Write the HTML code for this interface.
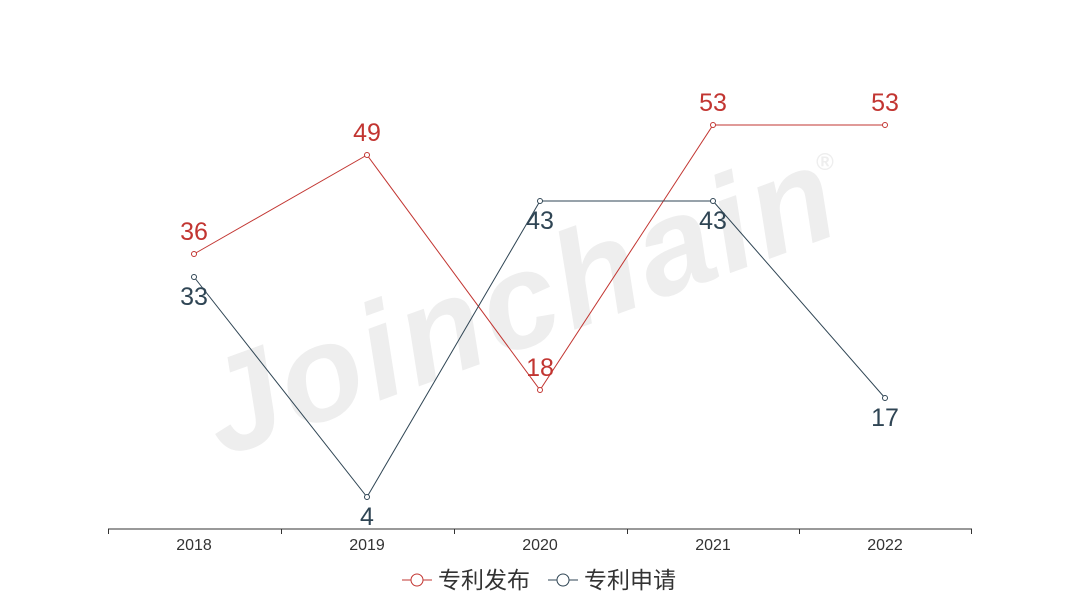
<!DOCTYPE html>
<html><head><meta charset="utf-8"><style>
html,body{margin:0;padding:0;background:#fff;}
svg{display:block;font-family:"Liberation Sans","Noto Sans CJK SC",sans-serif;}
</style></head><body>
<svg width="1080" height="600" viewBox="0 0 1080 600">
<text x="530" y="345" transform="rotate(-20 530 330)" text-anchor="middle" font-size="135" font-weight="bold" font-style="italic" letter-spacing="4" fill="#eeeeee">Joinchain</text>
<text x="825" y="170" font-size="24" font-weight="bold" fill="#eeeeee" text-anchor="middle">®</text>
<line x1="108" y1="529" x2="972" y2="529" stroke="#333" stroke-width="1"/>
<g stroke="#333" stroke-width="1">
<line x1="108.5" y1="529" x2="108.5" y2="534"/><line x1="281.5" y1="529" x2="281.5" y2="534"/><line x1="454.5" y1="529" x2="454.5" y2="534"/><line x1="627.5" y1="529" x2="627.5" y2="534"/><line x1="799.5" y1="529" x2="799.5" y2="534"/><line x1="971.5" y1="529" x2="971.5" y2="534"/>
</g>
<g font-size="16" fill="#333" text-anchor="middle">
<text x="194" y="550">2018</text><text x="367" y="550">2019</text><text x="540" y="550">2020</text><text x="713" y="550">2021</text><text x="885" y="550">2022</text>
</g>
<polyline points="194,254 367,155 540,390 713,125 885,125" fill="none" stroke="#c23531" stroke-width="1"/>
<polyline points="194,277 367,497 540,201 713,201 885,398" fill="none" stroke="#2f4554" stroke-width="1"/>
<g fill="#fff" stroke="#c23531" stroke-width="1">
<circle cx="194" cy="254" r="2.5"/><circle cx="367" cy="155" r="2.5"/><circle cx="540" cy="390" r="2.5"/><circle cx="713" cy="125" r="2.5"/><circle cx="885" cy="125" r="2.5"/>
</g>
<g fill="#fff" stroke="#2f4554" stroke-width="1">
<circle cx="194" cy="277" r="2.5"/><circle cx="367" cy="497" r="2.5"/><circle cx="540" cy="201" r="2.5"/><circle cx="713" cy="201" r="2.5"/><circle cx="885" cy="398" r="2.5"/>
</g>
<g font-size="25" fill="#c23531" text-anchor="middle">
<text x="194" y="240">36</text><text x="367" y="141">49</text><text x="540" y="376">18</text><text x="713" y="111">53</text><text x="885" y="111">53</text>
</g>
<g font-size="25" fill="#2f4554" text-anchor="middle">
<text x="194" y="305">33</text><text x="367" y="525">4</text><text x="540" y="229">43</text><text x="713" y="229">43</text><text x="885" y="426">17</text>
</g>
<g font-size="23">
<line x1="402" y1="580" x2="432" y2="580" stroke="#c23531" stroke-width="1"/>
<circle cx="417" cy="580" r="6" fill="#fff" stroke="#c23531"/>
<text x="438" y="588" fill="#333">专利发布</text>
<line x1="548" y1="580" x2="578" y2="580" stroke="#2f4554" stroke-width="1"/>
<circle cx="563" cy="580" r="6" fill="#fff" stroke="#2f4554"/>
<text x="584" y="588" fill="#333">专利申请</text>
</g>
</svg>
</body></html>
